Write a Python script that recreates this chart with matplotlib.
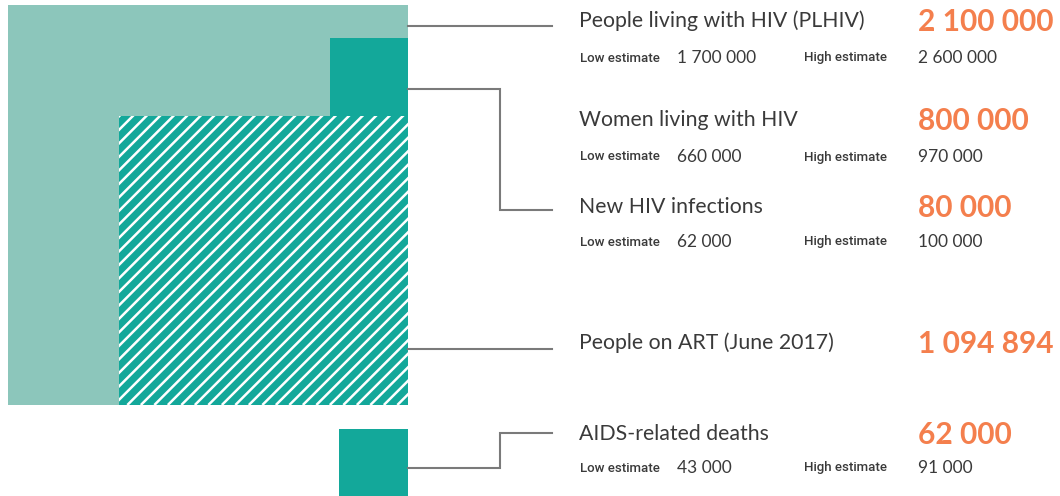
import numpy as np
import matplotlib
matplotlib.use("Agg")
from matplotlib import pyplot as plt
from matplotlib.patches import Rectangle

labels = ["People living with HIV (PLHIV)", "Women living with HIV",
          "New HIV infections", "People on ART (June 2017)", "AIDS-related deaths"]
values = [2100000, 800000, 80000, 1094894, 62000]
lows = [1700000, 660000, 62000, None, 43000]
highs = [2600000, 970000, 100000, None, 91000]

LIGHT = "#8cc6bb"
DARK = "#13a89a"
ORANGE = "#f47f4d"
TEXT = "#3a3a3a"
LINE = "#7a7a7a"


def fmt(v):
    return "{:,}".format(v).replace(",", " ")


def side(v, full=400.0):
    # squares are sized by area relative to the PLHIV square
    return full * np.sqrt(v / values[0])


fig = plt.figure(figsize=(10.6, 4.96), dpi=100)
ax = fig.add_axes([0, 0, 1, 1])
ax.set_xlim(0, 1060)
ax.set_ylim(496, 0)
ax.axis("off")

right = 408
# PLHIV square
s0 = side(values[0])
ax.add_patch(Rectangle((right - s0, 5), s0, s0, color=LIGHT, lw=0))
bottom = 5 + s0
# people on ART, hatched square sitting in bottom right corner
s3 = side(values[3])
art = Rectangle((right - s3, bottom - s3), s3, s3, facecolor=DARK, lw=0)
ax.add_patch(art)
for off in np.arange(-s3, s3 + 14, 13.5):
    x0 = right - s3 + off
    ln, = ax.plot([x0, x0 + s3 + 20], [bottom, bottom - s3 - 20], color="white", lw=1.8,
                  solid_capstyle="butt")
    ln.set_clip_path(art)
# new infections square on top of ART square
s2 = side(values[2])
ax.add_patch(Rectangle((right - s2, bottom - s3 - s2), s2, s2, color=DARK, lw=0))
# deaths square below
s4 = side(values[4])
ax.add_patch(Rectangle((right - s4, 429), s4, s4, color=DARK, lw=0, clip_on=False))

# connector lines
lk = dict(color=LINE, lw=1.5, solid_joinstyle="miter")
ax.plot([right, 552], [26, 26], **lk)
ax.plot([right, 500, 500, 552], [89, 89, 210, 210], **lk)
ax.plot([right, 552], [349, 349], **lk)
ax.plot([right, 500, 500, 552], [468, 468, 433, 433], **lk)

# text blocks
title_y = [21, 120, 207, 343, 434]
est_y = [58, 157, 242, None, 468]
for i in range(len(labels)):
    ax.text(579, title_y[i], labels[i], fontsize=15.3, color=TEXT, family="Lato",
            fontweight="normal", va="center", ha="left")
    ax.text(918, title_y[i] + 1, fmt(values[i]), fontsize=21.5, color=ORANGE,
            family="Lato", fontweight="bold", va="center", ha="left")
    if lows[i] is not None:
        ax.text(580, est_y[i], "Low estimate", fontsize=9.5, color=TEXT,
                family="Roboto", fontweight="medium", va="center")
        ax.text(677, est_y[i], fmt(lows[i]), fontsize=12.5, color=TEXT,
                family="Lato", fontweight="normal", va="center")
        ax.text(804, est_y[i], "High estimate", fontsize=9.5, color=TEXT,
                family="Roboto", fontweight="medium", va="center")
        ax.text(918, est_y[i], fmt(highs[i]), fontsize=12.5, color=TEXT,
                family="Lato", fontweight="normal", va="center")

fig.savefig("out.png", dpi=100)
